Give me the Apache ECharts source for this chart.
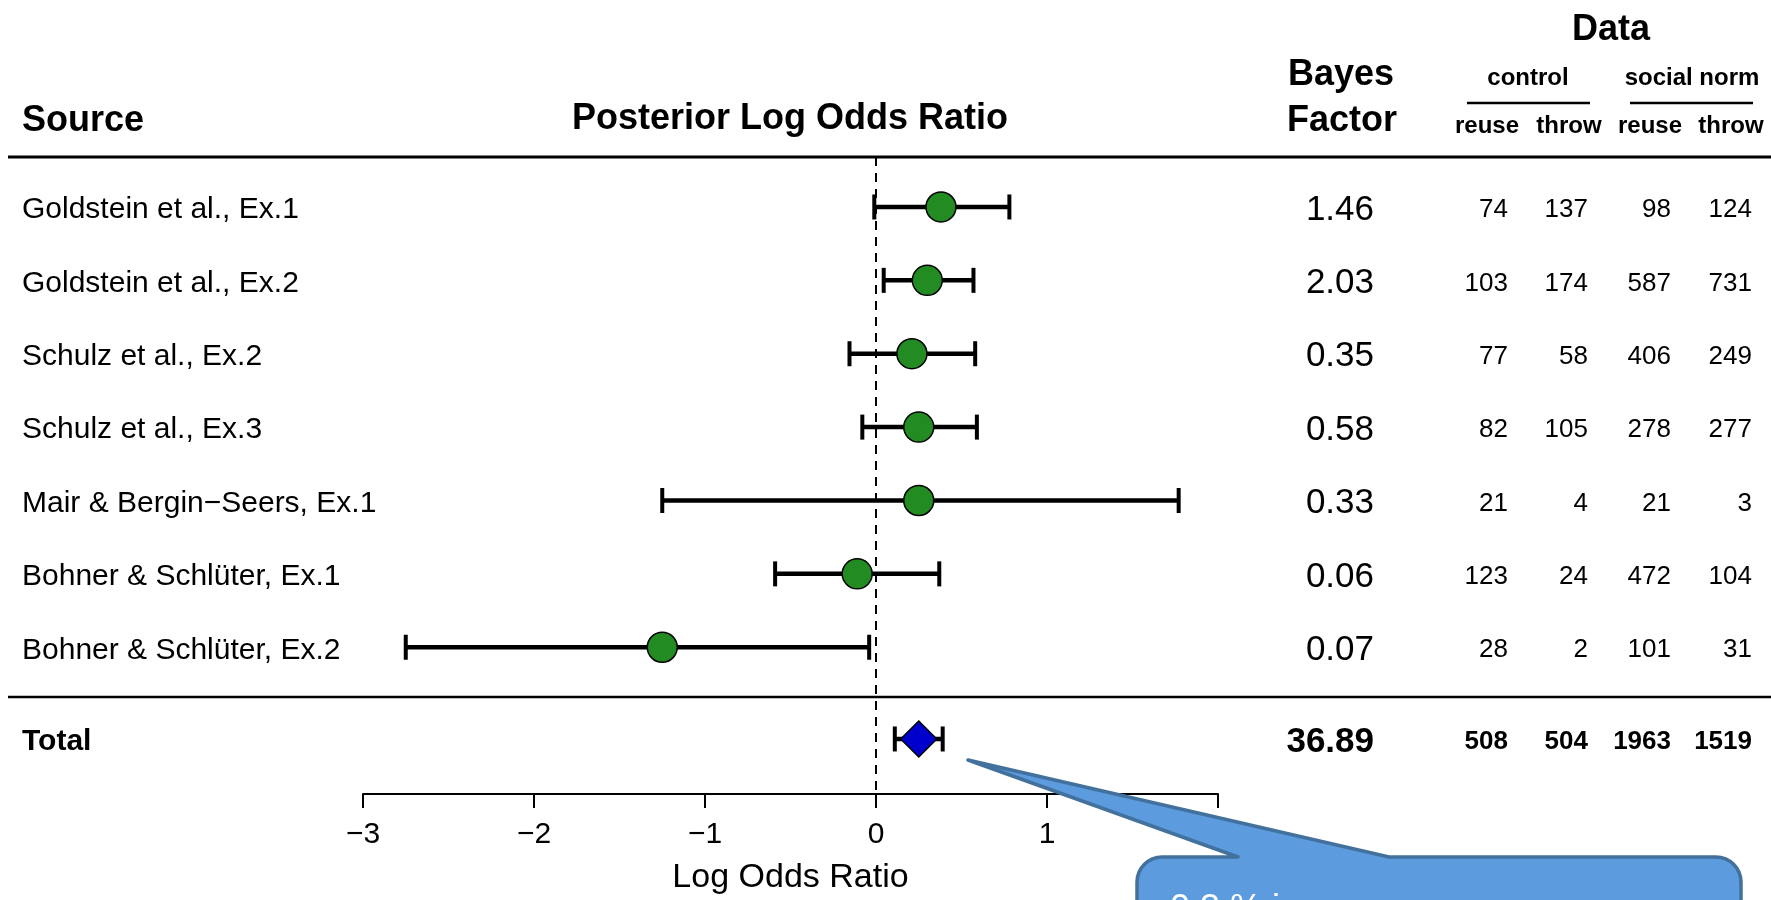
<!DOCTYPE html>
<html>
<head>
<meta charset="utf-8">
<title>Posterior Log Odds Ratio</title>
<script src="https://cdn.jsdelivr.net/npm/echarts@6/dist/echarts.min.js"></script>
<style>
html, body { margin: 0; padding: 0; background: #fff; }
#chart { width: 1771px; height: 900px; }
</style>
</head>
<body>
<div id="chart"></div>
<script>
// studies, top to bottom
var sources = [
    'Goldstein et al., Ex.1',
    'Goldstein et al., Ex.2',
    'Schulz et al., Ex.2',
    'Schulz et al., Ex.3',
    'Mair & Bergin\u2212Seers, Ex.1',
    'Bohner & Schl\u00fcter, Ex.1',
    'Bohner & Schl\u00fcter, Ex.2'
];
// posterior log odds ratio: estimate and interval
var estimate = [0.38, 0.30, 0.21, 0.25, 0.25, -0.11, -1.25];
var lower = [-0.01, 0.045, -0.155, -0.08, -1.25, -0.59, -2.75];
var upper = [0.78, 0.57, 0.58, 0.59, 1.77, 0.37, -0.04];
var bayesFactor = [1.46, 2.03, 0.35, 0.58, 0.33, 0.06, 0.07];
// counts
var controlReuse = [74, 103, 77, 82, 21, 123, 28];
var controlThrow = [137, 174, 58, 105, 4, 24, 2];
var normReuse = [98, 587, 406, 278, 21, 472, 101];
var normThrow = [124, 731, 249, 277, 3, 104, 31];
// total row
var totalLabel = 'Total';
var totalEstimate = [0.25];
var totalLower = [0.11];
var totalUpper = [0.39];
var totalBayes = [36.89];
var totalCounts = [508, 504, 1963, 1519];
// axis
var xTicks = [-3, -2, -1, 0, 1, 2];
var xName = 'Log Odds Ratio';

var FONT = '"Liberation Sans", Arial, Helvetica, sans-serif';
var TOTAL_ROW = 7.25; // total sits a bit below the last study
var LABEL_X = 22;
var BF_RIGHT = 1374;
var COUNT_RIGHT = [1508, 1588, 1671, 1752];
var TEXT_DY = 3; // cap letters sit a little low in R output

var chart = echarts.init(document.getElementById('chart'));

function txt(x, y, s, size, bold, align, color) {
    return {
        type: 'text', x: x, y: y + TEXT_DY, silent: true,
        style: {
            text: s, fill: color || '#000',
            font: (bold ? 'bold ' : '') + size + 'px ' + FONT,
            align: align, textAlign: align,
            verticalAlign: 'middle', textVerticalAlign: 'middle'
        }
    };
}

function hline(x1, x2, y, w) {
    return {
        type: 'line', silent: true,
        shape: { x1: x1, y1: y, x2: x2, y2: y },
        style: { stroke: '#000', lineWidth: w }
    };
}

// rounded corner points for the callout box
function arcPts(cx, cy, r, a0, a1) {
    var pts = [];
    for (var k = 0; k <= 8; k++) {
        var a = a0 + (a1 - a0) * k / 8;
        pts.push([cx + r * Math.cos(a), cy + r * Math.sin(a)]);
    }
    return pts;
}

function calloutPoints() {
    var L = 1137, R = 1741, T = 857, B = 940, r = 25;
    var pts = [];
    pts = pts.concat(arcPts(L + r, T + r, r, Math.PI, Math.PI * 1.5));
    pts.push([1238, T], [968, 760], [1389, T]);
    pts = pts.concat(arcPts(R - r, T + r, r, Math.PI * 1.5, Math.PI * 2));
    pts.push([R, B], [L, B]);
    return pts;
}

var rows = sources.map(function (s, i) { return i; });

// error bars
var barData = rows.map(function (i) { return [lower[i], upper[i], i]; });
barData.push([totalLower[0], totalUpper[0], TOTAL_ROW]);

function renderBar(params, api) {
    var lo = api.coord([api.value(0), api.value(2)]);
    var hi = api.coord([api.value(1), api.value(2)]);
    var h = 12.5;
    var cap = { stroke: '#000', lineWidth: 4 };
    return {
        type: 'group',
        children: [
            { type: 'line', shape: { x1: lo[0], y1: lo[1], x2: hi[0], y2: hi[1] }, style: { stroke: '#000', lineWidth: 4.5 } },
            { type: 'line', shape: { x1: lo[0], y1: lo[1] - h, x2: lo[0], y2: lo[1] + h }, style: cap },
            { type: 'line', shape: { x1: hi[0], y1: hi[1] - h, x2: hi[0], y2: hi[1] + h }, style: cap }
        ]
    };
}

// table text: source, Bayes factor, counts
var tableData = rows.map(function (i) { return [0, i]; });
tableData.push([0, TOTAL_ROW]);

function renderTable(params, api) {
    var i = params.dataIndex;
    var y = api.coord([0, api.value(1)])[1];
    var isTotal = i >= sources.length;
    var label = isTotal ? totalLabel : sources[i];
    var bf = isTotal ? totalBayes[0] : bayesFactor[i];
    var counts = isTotal ? totalCounts : [controlReuse[i], controlThrow[i], normReuse[i], normThrow[i]];
    var kids = [
        txt(LABEL_X, y, label, 30, isTotal, 'left'),
        txt(BF_RIGHT, y, bf.toFixed(2), 35, isTotal, 'right')
    ];
    counts.forEach(function (c, k) {
        kids.push(txt(COUNT_RIGHT[k], y, String(c), 26, isTotal, 'right'));
    });
    return { type: 'group', children: kids };
}

var headerGraphics = [
    txt(22, 118, 'Source', 36, true, 'left'),
    txt(790, 116, 'Posterior Log Odds Ratio', 36, true, 'center'),
    txt(1341, 72, 'Bayes', 36, true, 'center'),
    txt(1342, 118, 'Factor', 36, true, 'center'),
    txt(1611, 27, 'Data', 36, true, 'center'),
    txt(1528, 75, 'control', 24, true, 'center'),
    txt(1692, 75, 'social norm', 24, true, 'center'),
    hline(1467, 1590, 103, 2.5),
    hline(1630, 1753, 103, 2.5),
    txt(1487, 123, 'reuse', 24, true, 'center'),
    txt(1569, 123, 'throw', 24, true, 'center'),
    txt(1650, 123, 'reuse', 24, true, 'center'),
    txt(1731, 123, 'throw', 24, true, 'center'),
    hline(8, 1771, 157, 3),
    hline(8, 1771, 697, 2.5),
    // callout
    {
        type: 'polygon', silent: true, z: 100,
        shape: { points: calloutPoints() },
        style: { fill: '#5C9BDE', stroke: '#41719C', lineWidth: 3.5, lineJoin: 'round' }
    },
    {
        type: 'text', x: 1170, y: 892, silent: true, z: 101,
        style: {
            text: '0.3 % i', fill: '#fff', font: '36px ' + FONT,
            align: 'left', textAlign: 'left', verticalAlign: 'top', textVerticalAlign: 'top'
        }
    }
];

var option = {
    animation: false,
    backgroundColor: '#fff',
    grid: {
        left: 363, width: 855, top: 133.6, height: 660.4,
        outerBoundsMode: 'none'
    },
    xAxis: {
        type: 'value', min: xTicks[0], max: xTicks[xTicks.length - 1], interval: 1,
        splitLine: { show: false },
        axisLine: { show: true, onZero: false, lineStyle: { color: '#000', width: 2 } },
        axisTick: { show: true, length: 14, lineStyle: { color: '#000', width: 2 } },
        axisLabel: {
            color: '#000', fontSize: 30, fontFamily: FONT, margin: 26,
            formatter: function (v) { return String(v).replace('-', '\u2212'); }
        },
        name: xName, nameLocation: 'middle', nameGap: 67,
        nameTextStyle: { color: '#000', fontSize: 34, fontFamily: FONT }
    },
    yAxis: {
        type: 'value', min: -1, max: 8, inverse: true, show: false
    },
    graphic: headerGraphics,
    series: [
        {
            type: 'custom', name: 'interval', renderItem: renderBar,
            data: barData, encode: { x: [0, 1], y: 2 }, z: 2, silent: true
        },
        {
            type: 'scatter', name: 'estimate',
            data: rows.map(function (i) { return [estimate[i], i]; }),
            symbol: 'circle', symbolSize: 30, z: 3, silent: true,
            itemStyle: { color: '#228B22', borderColor: '#000', borderWidth: 1.5, opacity: 1 },
            markLine: {
                silent: true, symbol: 'none', animation: false,
                label: { show: false },
                lineStyle: { color: '#000', width: 2, type: [9, 7] },
                data: [[{ coord: [0, -0.68] }, { coord: [0, 8] }]]
            }
        },
        {
            type: 'scatter', name: 'total',
            data: [[totalEstimate[0], TOTAL_ROW]],
            symbol: 'diamond', symbolSize: [36, 36], z: 3, silent: true,
            itemStyle: { color: '#0000CD', borderColor: '#000', borderWidth: 1.5, opacity: 1 }
        },
        {
            type: 'custom', name: 'table', renderItem: renderTable,
            data: tableData, encode: { x: 0, y: 1 }, z: 4, silent: true, clip: false
        }
    ]
};

chart.setOption(option);
</script>
</body>
</html>
